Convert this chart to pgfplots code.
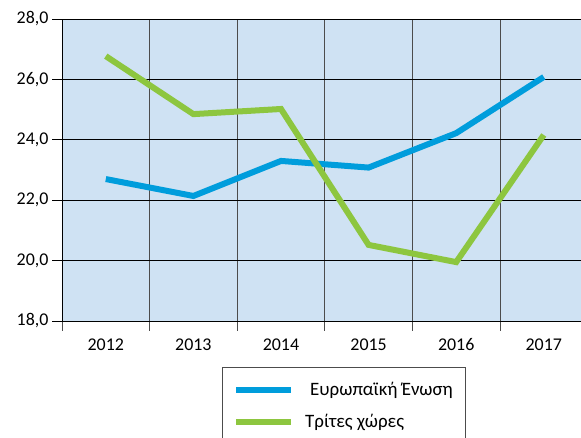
\documentclass[border=0pt]{standalone}
\usepackage{fontspec}
\setmainfont{Carlito}
\usepackage{pgfplots}
\pgfplotsset{compat=1.18}
\definecolor{bgblue}{RGB}{207,226,243}
\definecolor{eublue}{RGB}{0,157,220}
\definecolor{tcgreen}{RGB}{141,198,63}
\newcommand{\lblfont}{\fontsize{18}{21}\selectfont}
\newcommand{\legfont}{\fontsize{19}{22}\selectfont}
\begin{document}
\begin{tikzpicture}[x=1bp,y=1bp]
\begin{axis}[
  at={(0bp,0bp)}, anchor=south west,
  scale only axis, width=519bp, height=302bp,
  xmin=0.5, xmax=6.425, ymin=18, ymax=28,
  axis x line*=bottom, axis y line*=left,
  axis line style={black, line width=0.8bp, -},
  axis background/.style={fill=bgblue},
  xtick={1,...,6}, xticklabels={2012,2013,2014,2015,2016,2017},
  major x tick style={draw=none},
  minor xtick={0.5,1.5,...,5.5},
  minor x tick style={black!70, line width=0.8bp},
  xminorgrids, minor x grid style={black!70, line width=0.8bp},
  minor tick length=10bp, major tick length=10bp, tick align=outside,
  ytick={18,20,...,28}, ymajorgrids,
  major y grid style={black, line width=0.8bp},
  y tick style={black, line width=0.8bp},
  yticklabel style={/pgf/number format/.cd, fixed, fixed zerofill,
                    precision=1, use comma, assume math mode=true},
  xticklabel style={/pgf/number format/assume math mode=true, yshift=-4bp},
  tick label style={font=\lblfont},
  legend style={at={(0.308,-0.152)}, anchor=north west,
                draw=black!70, line width=0.8bp, fill=white,
                font=\legfont, row sep=13bp,
                inner xsep=11bp, inner ysep=13bp},
  legend cell align=left,
  legend image code/.code={\draw[#1, line width=6bp] (0bp,0bp) -- (55bp,0bp);},
]
\addplot[eublue, line width=6bp] coordinates
  {(1,22.70)(2,22.14)(3,23.30)(4,23.08)(5,24.22)(6,26.08)};
\addlegendentry{\hspace{14bp}Ευρωπαϊκή Ένωση}
\addplot[tcgreen, line width=6bp] coordinates
  {(1,26.77)(2,24.85)(3,25.02)(4,20.52)(5,19.95)(6,24.16)};
\addlegendentry{\hspace{9bp}Τρίτες χώρες}
\end{axis}
\pgfresetboundingbox
\path[use as bounding box] (-62,-117) rectangle (519,321);
\end{tikzpicture}
\end{document}
